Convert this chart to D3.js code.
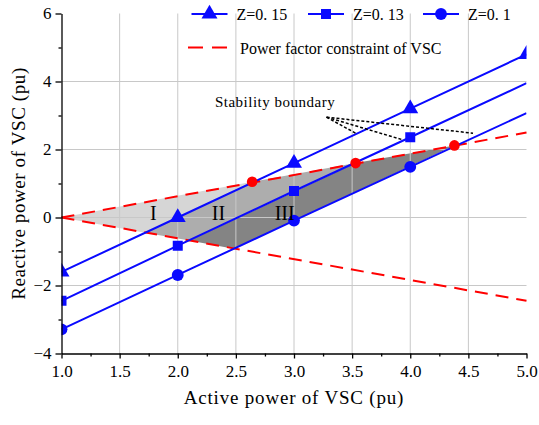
<!DOCTYPE html>
<html>
<head>
<meta charset="utf-8">
<script src="https://cdn.jsdelivr.net/npm/d3@7"></script>
<style>
    body { margin: 0; background: #fff; }
    svg text { font-family: "Liberation Serif", "Times New Roman", serif; fill: #000; }
</style>
</head>
<body>
<svg width="539" height="425"></svg>
<script>
// values
const activeP = [1, 2, 3, 4, 5];
const qZ15 = [-1.6, 0, 1.6, 3.2, 4.8];
const qZ13 = [-2.45, -0.83, 0.78, 2.36, 3.95];
const qZ10 = [-3.29, -1.69, -0.09, 1.49, 3.07];
const seriesNames = ["Z=0. 15", "Z=0. 13", "Z=0. 1"];
const markerCounts = [5, 4, 4];

const pfP = [1, 5];
const pfUpper = [0, 2.5];
const pfLower = [0, -2.45];
const pfName = "Power factor constraint of VSC";

// stability boundary points (red dots) and where the Z lines meet the lower constraint
const boundaryP = [2.64, 3.53, 4.38];
const boundaryQ = [1.05, 1.6, 2.12];
const lowerP = [1.72, 2.1, 2.48];
const lowerQ = [-0.45, -0.68, -0.92];
const regionNames = ["I", "II", "III"];
const regionLabelP = [1.79, 2.35, 2.92];

// "Stability boundary" pointer ends (one on each Z line)
const noteP = [3.28, 3.54, 3.94, 4.54];
const noteQ = [2.95, 2.46, 2.28, 2.48];

const xTicks = [1, 1.5, 2, 2.5, 3, 3.5, 4, 4.5, 5];
const yTicks = [-4, -2, 0, 2, 4, 6];

const margin = { top: 13.5, right: 12.5, bottom: 71.5, left: 61.5 };
const width = 539 - margin.left - margin.right;
const height = 425 - margin.top - margin.bottom;
const serif = "'Liberation Serif', 'Times New Roman', serif";

const x = d3.scaleLinear().domain([1, 5]).range([0, width]);
const y = d3.scaleLinear().domain([-4, 6]).range([height, 0]);

const svg = d3.select("svg");
const g = svg.append("g")
    .attr("transform", `translate(${margin.left},${margin.top})`)
    .attr("font-family", serif);

svg.append("defs").append("clipPath").attr("id", "plot")
    .append("rect").attr("width", width).attr("height", height);

// shaded regions
const origin = { p: pfP[0], q: pfUpper[0] };
const b = boundaryP.map((p, i) => ({ p: p, q: boundaryQ[i] }));
const l = lowerP.map((p, i) => ({ p: p, q: lowerQ[i] }));
const regions = [
    [origin, b[0], l[0]],
    [b[0], b[1], l[1], l[0]],
    [b[1], b[2], l[2], l[1]]
];
const regionFill = ["#d6d6d6", "#adadad", "#848484"];

const poly = d3.line().x((d) => x(d.p)).y((d) => y(d.q));

g.selectAll(".region")
    .data(regions)
    .enter().append("path")
    .attr("class", "region")
    .attr("d", (d) => poly(d) + "Z")
    .attr("fill", (d, i) => regionFill[i])
    .attr("stroke", "none");

// grid
g.selectAll(".vgrid")
    .data(xTicks.slice(1, -1))
    .enter().append("line")
    .attr("x1", (d) => x(d)).attr("x2", (d) => x(d))
    .attr("y1", 0).attr("y2", height)
    .attr("stroke", "#c8c8c8").attr("stroke-width", 1);

g.selectAll(".hgrid")
    .data(yTicks.slice(1, -1))
    .enter().append("line")
    .attr("y1", (d) => y(d)).attr("y2", (d) => y(d))
    .attr("x1", 0).attr("x2", width)
    .attr("stroke", "#c8c8c8").attr("stroke-width", 1);

// power factor constraint
[pfUpper, pfLower].forEach((qs) => {
    g.append("path")
        .attr("d", poly(pfP.map((p, i) => ({ p: p, q: qs[i] }))))
        .attr("fill", "none")
        .attr("stroke", "#ff0000")
        .attr("stroke-width", 2)
        .attr("stroke-dasharray", "13,8");
});

// Z series
const series = [qZ15, qZ13, qZ10].map((qs, i) => ({
    name: seriesNames[i],
    points: activeP.map((p, j) => ({ p: p, q: qs[j] })),
    marks: markerCounts[i]
}));
const shapes = [d3.symbolTriangle, d3.symbolSquare, d3.symbolCircle];
const shapeSize = [110, 100, 110];
const blue = "#0a0aff";

const plot = g.append("g").attr("clip-path", "url(#plot)");

series.forEach((s, i) => {
    plot.append("path")
        .attr("d", poly(s.points))
        .attr("fill", "none")
        .attr("stroke", blue)
        .attr("stroke-width", 2);

    plot.selectAll(".m" + i)
        .data(s.points.slice(0, s.marks))
        .enter().append("path")
        .attr("d", d3.symbol().type(shapes[i]).size(shapeSize[i]))
        .attr("transform", (d) => `translate(${x(d.p)},${y(d.q)})`)
        .attr("fill", blue);
});

// stability boundary dots
g.selectAll(".bdot")
    .data(b)
    .enter().append("circle")
    .attr("cx", (d) => x(d.p))
    .attr("cy", (d) => y(d.q))
    .attr("r", 5.3)
    .attr("fill", "#ff0000");

// region labels
g.selectAll(".rlabel")
    .data(regionNames)
    .enter().append("text")
    .attr("x", (d, i) => x(regionLabelP[i]))
    .attr("y", y(-0.07))
    .attr("text-anchor", "middle")
    .style("font-size", "20px")
    .text((d) => d);

// stability boundary annotation
noteP.slice(1).forEach((p, i) => {
    g.append("line")
        .attr("x1", x(noteP[0])).attr("y1", y(noteQ[0]))
        .attr("x2", x(p)).attr("y2", y(noteQ[i + 1]))
        .attr("stroke", "#000")
        .attr("stroke-width", 1.5)
        .attr("stroke-dasharray", "3,2");
});
g.append("text")
    .attr("x", x(2.32))
    .attr("y", y(3.25))
    .style("font-size", "15px")
    .style("letter-spacing", "0.5px")
    .text("Stability boundary");

// axes
g.append("g")
    .attr("transform", `translate(0,${height})`)
    .call(d3.axisBottom(x).tickValues(xTicks).tickFormat(d3.format(".1f")).tickSize(5).tickSizeOuter(0).tickPadding(6))
    .attr("font-family", serif).attr("font-size", 17);
g.append("g")
    .attr("transform", `translate(0,${height})`)
    .call(d3.axisBottom(x).tickValues(xTicks.slice(0, -1).map((d) => d + 0.25)).tickFormat("").tickSize(3).tickSizeOuter(0))
    .select(".domain").remove();

g.append("g")
    .call(d3.axisLeft(y).tickValues(yTicks).tickFormat(d3.format("d")).tickSize(6).tickSizeOuter(0).tickPadding(4))
    .attr("font-family", serif).attr("font-size", 17);
g.append("g")
    .call(d3.axisLeft(y).tickValues(yTicks.slice(0, -1).map((d) => d + 1)).tickFormat("").tickSize(3).tickSizeOuter(0))
    .select(".domain").remove();

svg.selectAll(".tick line, .domain").attr("stroke", "#000").attr("stroke-width", 1.3);

g.append("text")
    .attr("x", width / 2)
    .attr("y", height + 50)
    .attr("text-anchor", "middle")
    .style("font-size", "19px")
    .style("letter-spacing", "0.8px")
    .text("Active power of VSC (pu)");

g.append("text")
    .attr("transform", `translate(${-37},${height / 2}) rotate(-90)`)
    .attr("text-anchor", "middle")
    .style("font-size", "19px")
    .style("letter-spacing", "0.6px")
    .text("Reactive power of VSC (pu)");

// legend
const legendX = [130, 246.5, 361.5];
const legend = g.selectAll(".legend")
    .data(series)
    .enter().append("g")
    .attr("transform", (d, i) => `translate(${legendX[i]},0.5)`);
legend.append("line")
    .attr("x1", 0).attr("x2", 36)
    .attr("stroke", blue).attr("stroke-width", 2);
legend.append("path")
    .attr("d", (d, i) => d3.symbol().type(shapes[i]).size(shapeSize[i])())
    .attr("transform", "translate(18,0)")
    .attr("fill", blue);
legend.append("text")
    .attr("x", 45)
    .attr("y", 6)
    .style("font-size", "16px")
    .text((d) => d.name);

const pfLegend = g.append("g").attr("transform", "translate(126.5,34)");
pfLegend.append("line")
    .attr("x1", 0).attr("x2", 40)
    .attr("stroke", "#ff0000").attr("stroke-width", 2)
    .attr("stroke-dasharray", "15,9");
pfLegend.append("text")
    .attr("x", 52)
    .attr("y", 6)
    .style("font-size", "16px")
    .text(pfName);
</script>
</body>
</html>
